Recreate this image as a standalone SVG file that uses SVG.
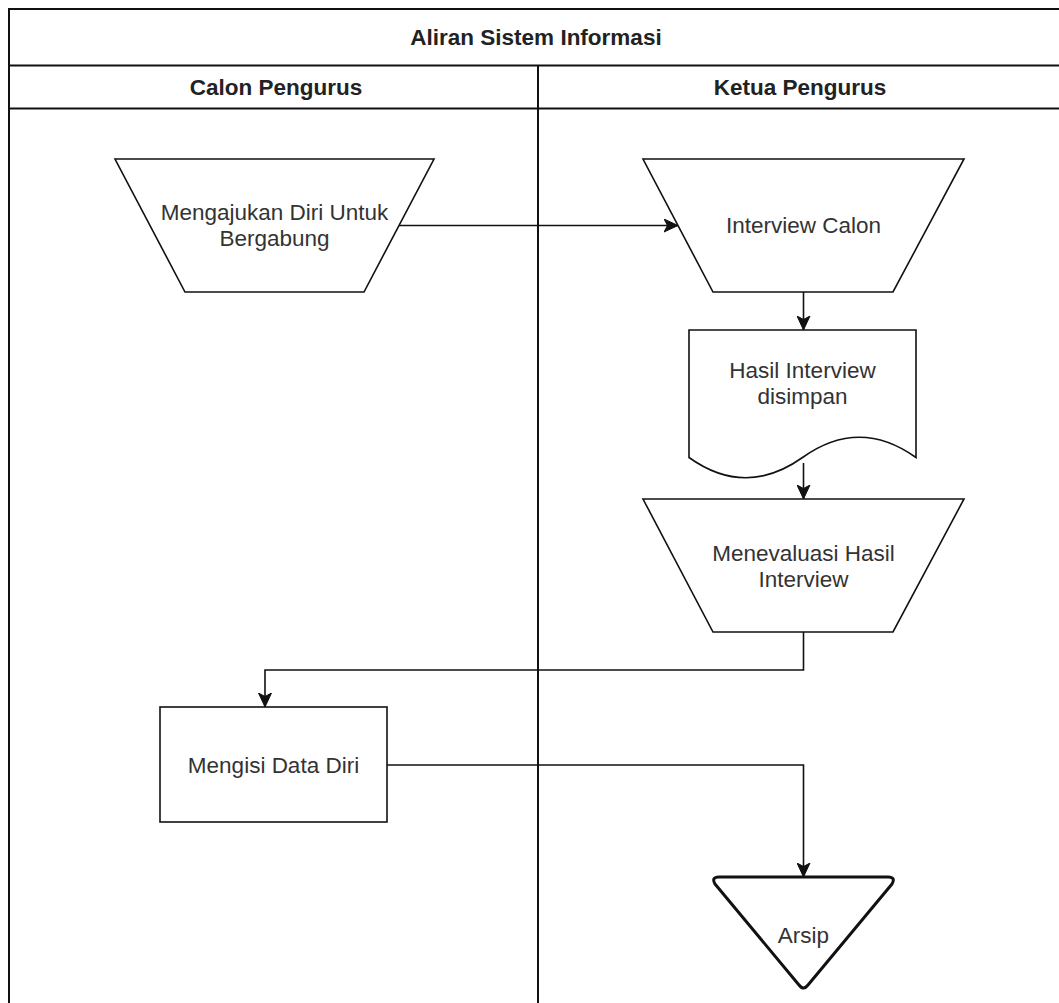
<svg xmlns="http://www.w3.org/2000/svg" width="1059" height="1003" viewBox="0 0 1059 1003">
  <defs>
    <marker id="arrow" markerUnits="userSpaceOnUse" markerWidth="16" markerHeight="14" refX="14" refY="7" orient="auto">
      <path d="M0,0.5 L14,7 L0,13.5 L3.5,7 Z" fill="#111" stroke="#111" stroke-width="1"/>
    </marker>
    <style>
      .shape { fill: #ffffff; stroke: #111; stroke-width: 1.6; }
      .frame { fill: #ffffff; stroke: #111; stroke-width: 2; }
      .edge { fill: none; stroke: #111; stroke-width: 1.6; marker-end: url(#arrow); }
      .label { font-family: "Liberation Sans", Arial, sans-serif; font-size: 22.5px; fill: #333; text-anchor: middle; }
      .head { font-family: "Liberation Sans", Arial, sans-serif; font-size: 22.5px; font-weight: bold; fill: #222; text-anchor: middle; }
    </style>
  </defs>
  <rect x="0" y="0" width="1059" height="1003" fill="#ffffff"/>

  <g id="pool">
    <rect class="frame" x="9" y="9" width="1060" height="1010"/>
    <line x1="9" y1="65.5" x2="1059" y2="65.5" stroke="#111" stroke-width="2"/>
    <line x1="9" y1="108.5" x2="1059" y2="108.5" stroke="#111" stroke-width="2"/>
    <line x1="538" y1="65.5" x2="538" y2="1003" stroke="#111" stroke-width="2"/>
    <text class="head" x="536" y="45">Aliran Sistem Informasi</text>
    <text class="head" x="276" y="95">Calon Pengurus</text>
    <text class="head" x="800" y="95">Ketua Pengurus</text>
  </g>

  <g id="connectors">
    <path class="edge" d="M399,225.5 L678,225.5"/>
    <path class="edge" d="M803.5,292 L803.5,330"/>
    <path class="edge" d="M803.5,463 L803.5,499"/>
    <path class="edge" d="M803.5,632 L803.5,670 L265,670 L265,707"/>
    <path class="edge" d="M387,765 L803.5,765 L803.5,877"/>
  </g>

  <g id="node-mengajukan">
    <path class="shape" d="M115,159 L434,159 L364,292 L185,292 Z"/>
    <text class="label" x="274.5" y="220">Mengajukan Diri Untuk</text>
    <text class="label" x="274.5" y="246">Bergabung</text>
  </g>

  <g id="node-interview">
    <path class="shape" d="M643,159 L964,159 L893,292 L713,292 Z"/>
    <text class="label" x="803.5" y="233">Interview Calon</text>
  </g>

  <g id="node-hasil">
    <path class="shape" d="M689,330 L916,330 L916,457.5 Q859.25,417 802.5,457.5 Q745.75,498 689,457.5 Z"/>
    <text class="label" x="802.5" y="378">Hasil Interview</text>
    <text class="label" x="802.5" y="404">disimpan</text>
  </g>

  <g id="node-evaluasi">
    <path class="shape" d="M643,499 L964,499 L893,632 L713,632 Z"/>
    <text class="label" x="803.5" y="561">Menevaluasi Hasil</text>
    <text class="label" x="803.5" y="587">Interview</text>
  </g>

  <g id="node-mengisi">
    <rect class="shape" x="160" y="707" width="227" height="115"/>
    <text class="label" x="273.5" y="773">Mengisi Data Diri</text>
  </g>

  <g id="node-arsip">
    <path d="M719,877 L888,877 Q896,877 892,884 L808,985 Q803.5,991 799,985 L715,884 Q711,877 719,877 Z" fill="#ffffff" stroke="#111" stroke-width="3" stroke-linejoin="round"/>
    <text class="label" x="803.5" y="943">Arsip</text>
  </g>
</svg>
